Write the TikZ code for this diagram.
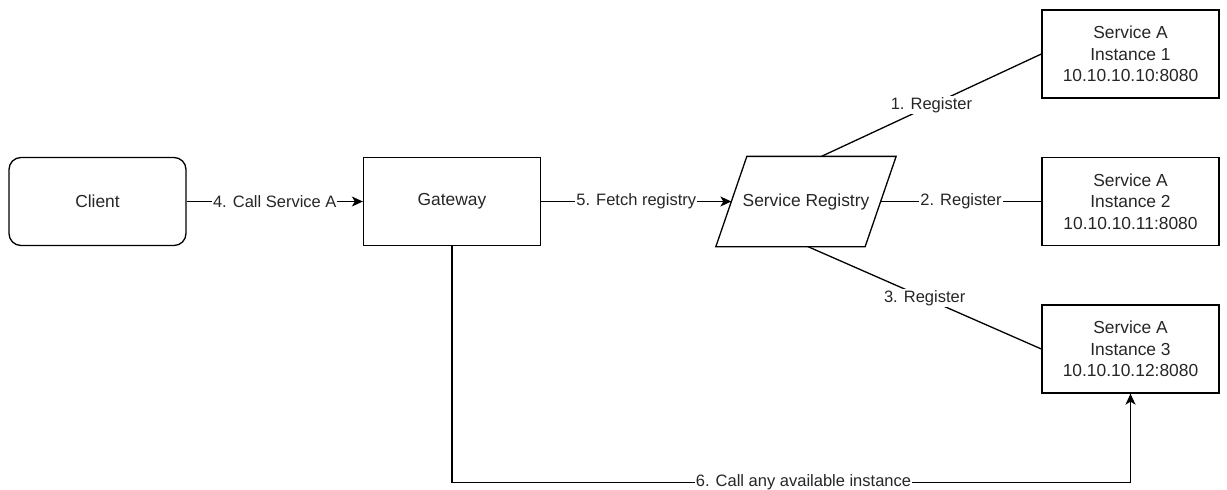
\documentclass[tikz,border=0pt]{standalone}
\usepackage{fontspec}
\setmainfont{Liberation Sans}
\usetikzlibrary{arrows.meta}
\definecolor{ink}{HTML}{262626}

\begin{document}
\begin{tikzpicture}[x=1pt,y=-1pt,
  every node/.style={text=ink},
  box/.style={draw=black, line width=1.3pt, minimum width=177pt, minimum height=88pt,
    inner sep=0pt, align=center, font=\fontsize{17.4}{21.5}\selectfont},
  roundbox/.style={box, rounded corners=12pt},
  regbox/.style={box, draw=none, minimum width=148pt, minimum height=89pt},
  outline/.style={draw=black, line width=1.3pt, line join=miter},
  link/.style={draw=black, line width=1.3pt},
  arrow/.style={link, -{Stealth[length=11pt, width=10pt, inset=3pt]}},
  lbl/.style={fill=white, inner sep=1pt, font=\fontsize{16.5}{19}\selectfont}]

  \useasboundingbox (0,0) rectangle (1227,490);

  % nodes
  \node[roundbox] (client) at (97.5,201.5) {Client};
  \node[box] (gw) at (452,201.5) {Gateway};
  \node[regbox] (reg) at (806,201.5) {Service Registry};
  \node[box] (i1) at (1130.5,54) {Service A\\Instance 1\\10.10.10.10:8080};
  \node[box] (i2) at (1130.5,201.5) {Service A\\Instance 2\\10.10.10.11:8080};
  \node[box] (i3) at (1130.5,349) {Service A\\Instance 3\\10.10.10.12:8080};

  % parallelogram outline of the registry
  \draw[outline] ([xshift=-15.5pt]reg.south west) -- ([xshift=15.5pt]reg.north west)
    -- ([xshift=15.5pt]reg.north east) -- ([xshift=-15.5pt]reg.south east) -- cycle;

  % calls
  \draw[arrow] (client.east) -- node[lbl] {4. Call Service A} (gw.west);
  \draw[arrow] (gw.east) -- node[lbl] {5. Fetch registry} (reg.west);

  % registrations
  \draw[link] ([xshift=15.5pt]reg.north) -- node[lbl] {1. Register} (i1.west);
  \draw[link] (reg.east) -- node[lbl] {2. Register} (i2.west);
  \draw[link] ([xshift=2pt]reg.south) -- node[lbl] {3. Register} (i3.west);

  % direct call to an instance
  \draw[arrow] (gw.south) |- node[lbl, pos=0.759] {6. Call any available instance}
    ([yshift=-89pt]i3.south) -- (i3.south);
\end{tikzpicture}
\end{document}
